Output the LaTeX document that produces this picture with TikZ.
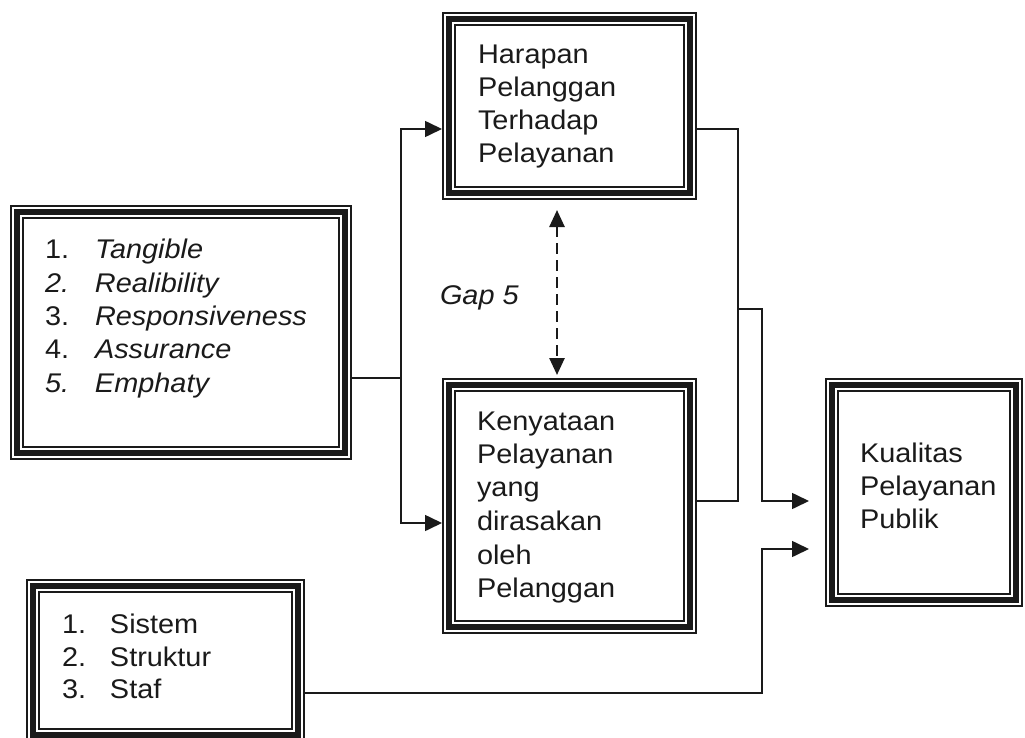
\documentclass[tikz,border=0pt]{standalone}
\usepackage{fontspec}
\setmainfont{Liberation Sans}[FakeStretch=1.07]
\usetikzlibrary{arrows.meta}
\definecolor{ink}{HTML}{1A1A1A}
\begin{document}
\begin{tikzpicture}[x=1pt,y=-1pt,
  box/.style={rectangle, inner sep=0pt, outer sep=0pt},
  txt/.style={anchor=base west, inner sep=0pt, outer sep=0pt, text=ink, font=\fontsize{27}{33}\selectfont},
  ln/.style={draw=ink, line width=1.6pt},
  arr/.style={ln, -{Triangle[length=17pt,width=16pt]}},
  darr/.style={ln, line width=2.6pt, dash pattern=on 11pt off 6pt, {Triangle[length=17pt,width=15pt]}-{Triangle[length=17pt,width=15pt]}}
]
\path[use as bounding box, clip] (0,0) rectangle (1025,738);

% boxes
\node[box, minimum width=342pt, minimum height=255pt] (b1) at (181,332.5) {};
\node[box, minimum width=255pt, minimum height=188pt] (h) at (569.5,106) {};
\node[box, minimum width=255pt, minimum height=256pt] (k) at (569.5,506) {};
\node[box, minimum width=198pt, minimum height=229pt] (q) at (924,492.5) {};
\node[box, minimum width=279pt, minimum height=163pt] (s) at (165.5,660.5) {};

\foreach \n in {b1,h,k,q,s}{
  \draw[ink, line width=1.8pt] ([shift={(1,1)}]\n.north west) rectangle ([shift={(-1,-1)}]\n.south east);
  \draw[ink, line width=5.5pt] ([shift={(7,7)}]\n.north west) rectangle ([shift={(-7,-7)}]\n.south east);
  \draw[ink, line width=1.8pt] ([shift={(13,13)}]\n.north west) rectangle ([shift={(-13,-13)}]\n.south east);
}

% texts: left box
\node[txt] (t11) at (45,258) {\makebox[50pt][l]{1.}\textit{Tangible}};
\node[txt] (t12) at (45,292) {\makebox[50pt][l]{\textit{2.}}\textit{Realibility}};
\node[txt] (t13) at (45,325) {\makebox[50pt][l]{3.}\textit{Responsiveness}};
\node[txt] (t14) at (45,358) {\makebox[50pt][l]{4.}\textit{Assurance}};
\node[txt] (t15) at (45,392) {\makebox[50pt][l]{\textit{5.}}\textit{Emphaty}};

% Harapan
\node[txt] (h1) at (478,64) {Harapan};
\node[txt] (h2) at (478,97) {Pelanggan};
\node[txt] (h3) at (478,130) {Terhadap};
\node[txt] (h4) at (478,163) {Pelayanan};

% Kenyataan
\node[txt] (k1) at (477,430) {Kenyataan};
\node[txt] (k2) at (477,463) {Pelayanan};
\node[txt] (k3) at (477,496) {yang};
\node[txt] (k4) at (477,530) {dirasakan};
\node[txt] (k5) at (477,564) {oleh};
\node[txt] (k6) at (477,597) {Pelanggan};

% Kualitas
\node[txt] (q1) at (860,462) {Kualitas};
\node[txt] (q2) at (860,495) {Pelayanan};
\node[txt] (q3) at (860,528) {Publik};

% Sistem
\node[txt] (s1) at (62,633) {\makebox[48pt][l]{1.}Sistem};
\node[txt] (s2) at (62,666) {\makebox[48pt][l]{2.}Struktur};
\node[txt] (s3) at (62,698) {\makebox[48pt][l]{3.}Staf};

% Gap 5
\node[txt] (gap) at (440,304) {\textit{Gap 5}};

% connectors
\coordinate (jL) at (401,378);
\coordinate (yH) at (0,129);
\coordinate (yK) at (0,523);
\draw[ln] (b1.east |- jL) -- (jL);
\draw[arr] (jL) |- (h.west |- yH);
\draw[arr] (jL) |- (k.west |- yK);

\coordinate (cR) at (738,501);
\coordinate (jR) at (738,309);
\coordinate (cQ) at (762,501);
\coordinate (cS) at (762,549);
\coordinate (yS) at (0,693);
\draw[ln] (h.east |- yH) -| (cR) -- (k.east |- cR);
\draw[arr, shorten >=16pt] (jR) -| (cQ) -- (q.west |- cQ);
\draw[arr, shorten >=16pt] (s.east |- yS) -| (cS) -- (q.west |- cS);

\coordinate (g) at (557,0);
\draw[darr, shorten <=10pt, shorten >=3pt] (h.south -| g) -- (k.north -| g);
\end{tikzpicture}
\end{document}
